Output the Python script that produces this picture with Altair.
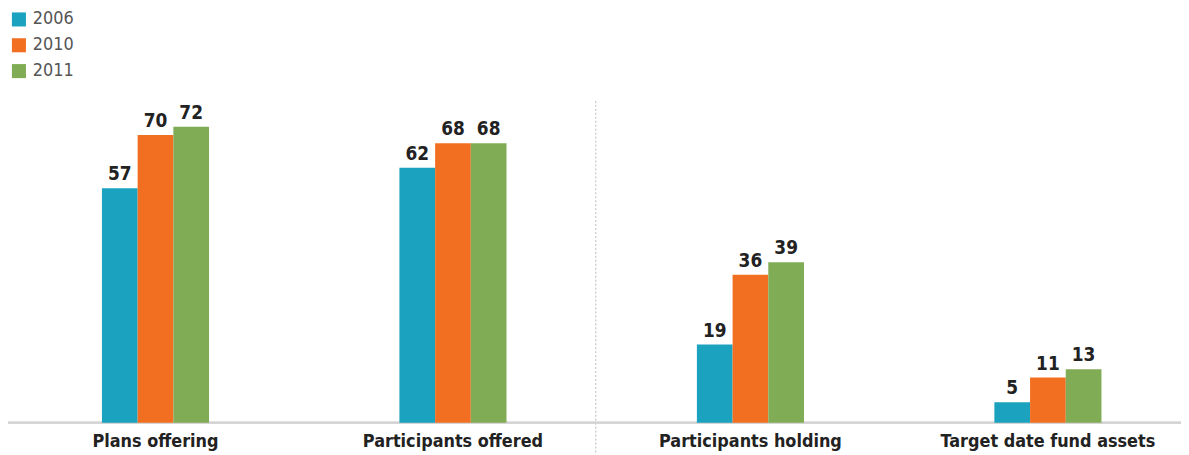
import altair as alt
import pandas as pd

categories = ["Plans offering", "Participants offered", "Participants holding", "Target date fund assets"]
years = ["2006", "2010", "2011"]
values_2006 = [57, 62, 19, 5]
values_2010 = [70, 68, 36, 11]
values_2011 = [72, 68, 39, 13]
colors = ["#1aa2bf", "#f26f22", "#80ac55"]

rows = []
for ci, cat in enumerate(categories):
    for yi, (yr, vals) in enumerate(zip(years, [values_2006, values_2010, values_2011])):
        rows.append({"cat": cat, "ci": ci, "year": yr, "yi": yi, "value": vals[ci]})
df = pd.DataFrame(rows)
cat_df = pd.DataFrame({"cat": categories, "ci": list(range(len(categories)))})

FONT = "DejaVu Sans Condensed, Liberation Sans Narrow, DejaVu Sans, sans-serif"
W = 0.12  # bar width in category units
xscale = alt.Scale(domain=[-0.4958, 3.4474], nice=False, zero=False)
yscale = alt.Scale(domain=[0, 100.5], nice=False)

base = alt.Chart(df).transform_calculate(
    x0=f"datum.ci + (datum.yi - 1) * {W} - {W/2}",
    x1=f"datum.ci + (datum.yi - 1) * {W} + {W/2}",
    xm=f"datum.ci + (datum.yi - 1) * {W}",
)

bars = base.mark_bar().encode(
    x=alt.X("x0:Q", scale=xscale, axis=None),
    x2="x1:Q",
    y=alt.Y("value:Q", scale=yscale, axis=None),
    y2=alt.datum(0),
    color=alt.Color(
        "year:N",
        scale=alt.Scale(domain=years, range=colors),
        legend=alt.Legend(
            title=None, orient="none", legendX=2, legendY=1,
            symbolType="square", symbolSize=200, symbolStrokeWidth=0,
            labelFont=FONT, labelFontSize=18, labelColor="#555555",
            rowPadding=8, labelOffset=5,
        ),
    ),
)

labels = base.mark_text(
    baseline="bottom", dy=-4, font=FONT, fontSize=19, fontWeight="bold", color="#222222"
).encode(
    x=alt.X("xm:Q", scale=xscale, axis=None),
    y=alt.Y("value:Q", scale=yscale, axis=None),
    text="value:Q",
)

axis_line = alt.Chart(cat_df).mark_rule(color="#d4d4d4", strokeWidth=2).encode(
    x=alt.value(-3), x2=alt.value(1181), y=alt.Y(datum=0, scale=yscale, axis=None)
)

divider = alt.Chart(pd.DataFrame({"pos": [1.48]})).mark_rule(
    color="#b8b8b8", strokeDash=[2, 2], strokeWidth=1
).encode(
    x=alt.X("pos:Q", scale=xscale, axis=None), y=alt.value(92), y2=alt.value(447)
)

cat_labels = alt.Chart(cat_df).mark_text(
    baseline="middle", font=FONT, fontSize=18, fontWeight="bold", color="#222222"
).encode(
    x=alt.X("ci:Q", scale=xscale, axis=None),
    y=alt.value(435),
    text="cat:N",
)

chart = alt.layer(divider, axis_line, bars, labels, cat_labels).properties(
    width=1181, height=416,
    autosize=alt.AutoSizeParams(type="none"),
    padding={"left": 0, "top": 0, "right": 0, "bottom": 31},
).configure_view(stroke=None)

chart.save("out.html", embed_options={"renderer": "svg", "actions": False})
